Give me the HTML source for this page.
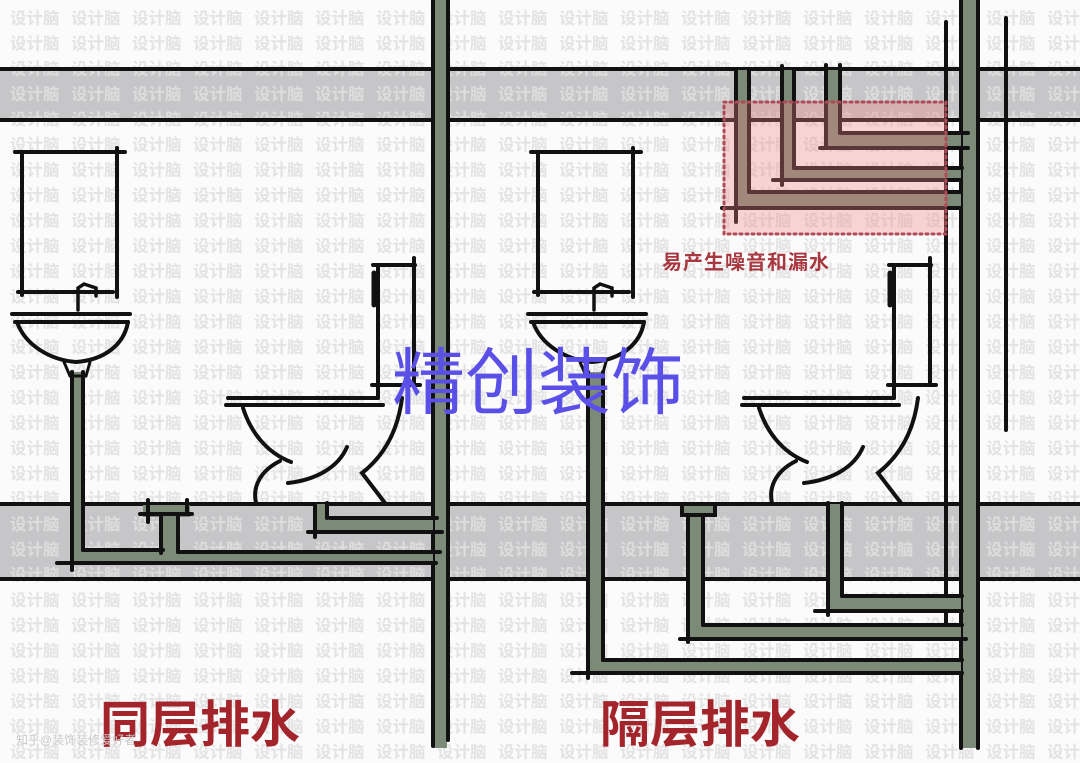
<!DOCTYPE html>
<html><head><meta charset="utf-8"><style>
html,body{margin:0;padding:0;background:#fff}
svg{display:block}
</style></head><body>
<svg width="1080" height="763" viewBox="0 0 1080 763" xmlns="http://www.w3.org/2000/svg">
<defs>
<pattern id="wm" x="10" y="6" width="61" height="25.3" patternUnits="userSpaceOnUse">
<text x="0" y="18" font-family="Liberation Sans, Noto Sans CJK SC, sans-serif" font-size="16.5" font-weight="bold" fill="#e0e0e0">设计脑</text>
</pattern>
</defs>
<rect width="1080" height="763" fill="#fbfbfb"/>
<rect x="0" y="68" width="1080" height="52" fill="#c6c6c8"/>
<rect x="0" y="503" width="1080" height="76" fill="#c6c6c8"/>
<rect width="1080" height="763" fill="url(#wm)" opacity="0.9"/>
<g stroke="#111" stroke-width="4">
<line x1="0" y1="69" x2="1080" y2="69"/>
<line x1="0" y1="120" x2="1080" y2="120"/>
<line x1="0" y1="504" x2="1080" y2="504"/>
<line x1="0" y1="579" x2="1080" y2="579"/>
</g>
<rect x="433" y="0" width="14" height="748" fill="#7c8a78"/>
<g stroke="#111" stroke-width="4" stroke-linecap="round">
<line x1="433" y1="0" x2="433" y2="746"/>
<line x1="448" y1="0" x2="448" y2="740"/>
</g>
<rect x="961" y="0" width="16" height="748" fill="#7c8a78"/>
<g stroke="#111" stroke-width="4" stroke-linecap="round">
<line x1="961" y1="0" x2="961" y2="748"/>
<line x1="978" y1="0" x2="978" y2="748"/>
<line x1="946" y1="22" x2="946" y2="630"/>
<line x1="1006" y1="18" x2="1006" y2="430"/>
</g>

<g fill="#7c8a78">
<rect x="73" y="372" width="10" height="191"/>
<rect x="73" y="550" width="360" height="13"/>
<rect x="161" y="515" width="17" height="37"/>
<rect x="143" y="505" width="47" height="12"/>
<rect x="316" y="504" width="12" height="28"/>
<rect x="316" y="518" width="117" height="14"/>
</g>
<g stroke="#111" stroke-width="4" stroke-linecap="round" fill="none">
<line x1="72" y1="372" x2="72" y2="570"/>
<line x1="83" y1="372" x2="83" y2="550"/>
<line x1="57" y1="563" x2="436" y2="563"/>
<line x1="83" y1="550" x2="163" y2="550"/>
<line x1="178" y1="552" x2="440" y2="552"/>
<line x1="161" y1="517" x2="161" y2="553"/>
<line x1="178" y1="517" x2="178" y2="552"/>
<line x1="140" y1="514" x2="192" y2="514"/>
<line x1="148" y1="500" x2="148" y2="522"/>
<line x1="187" y1="500" x2="187" y2="513"/>
<line x1="315" y1="505" x2="315" y2="537"/>
<line x1="327" y1="503" x2="327" y2="518"/>
<line x1="330" y1="518" x2="437" y2="518"/>
<line x1="308" y1="532" x2="442" y2="532"/>
</g>

<g fill="#7c8a78">
<rect x="589" y="372" width="14" height="300"/>
<rect x="589" y="660" width="372" height="13"/>
<rect x="689" y="515" width="14" height="124"/>
<rect x="689" y="625" width="272" height="14"/>
<rect x="682" y="505" width="33" height="10"/>
<rect x="829" y="504" width="13" height="107"/>
<rect x="829" y="596" width="132" height="15"/>
</g>
<g stroke="#111" stroke-width="4" stroke-linecap="round" fill="none">
<line x1="588" y1="372" x2="588" y2="678"/>
<line x1="603" y1="372" x2="603" y2="660"/>
<line x1="603" y1="660" x2="962" y2="660"/>
<line x1="572" y1="673" x2="962" y2="673"/>
<line x1="688" y1="515" x2="688" y2="642"/>
<line x1="703" y1="515" x2="703" y2="625"/>
<line x1="703" y1="625" x2="962" y2="625"/>
<line x1="680" y1="639" x2="966" y2="639"/>
<rect x="682" y="504" width="33" height="11"/>
<line x1="828" y1="503" x2="828" y2="615"/>
<line x1="842" y1="503" x2="842" y2="596"/>
<line x1="842" y1="596" x2="962" y2="596"/>
<line x1="815" y1="611" x2="962" y2="611"/>
</g>

<g fill="#7c8a78">
<rect x="737" y="70" width="12" height="138"/>
<rect x="737" y="192" width="224" height="16"/>
<rect x="783" y="70" width="11" height="110"/>
<rect x="783" y="168" width="178" height="12"/>
<rect x="827" y="70" width="13" height="78"/>
<rect x="827" y="133" width="134" height="15"/>
</g>
<g stroke="#111" stroke-width="4" stroke-linecap="round" fill="none">
<line x1="736" y1="70" x2="736" y2="222"/>
<line x1="749" y1="70" x2="749" y2="192"/>
<line x1="749" y1="192" x2="960" y2="192"/>
<line x1="722" y1="208" x2="960" y2="208"/>
<line x1="782" y1="66" x2="782" y2="185"/>
<line x1="794" y1="70" x2="794" y2="168"/>
<line x1="794" y1="168" x2="962" y2="168"/>
<line x1="773" y1="180" x2="960" y2="180"/>
<line x1="826" y1="65" x2="826" y2="148"/>
<line x1="840" y1="65" x2="840" y2="133"/>
<line x1="840" y1="133" x2="968" y2="133"/>
<line x1="820" y1="148" x2="968" y2="148"/>
</g>
<rect x="724" y="102" width="222" height="132" fill="rgba(240,130,130,0.33)" stroke="#b04a55" stroke-width="3" stroke-dasharray="2 4" stroke-linecap="round"/>

<g id="fx" stroke="#111" stroke-width="4" stroke-linecap="round" fill="none">
<line x1="15" y1="152" x2="125" y2="152"/>
<line x1="22" y1="152" x2="22" y2="295"/>
<line x1="117" y1="148" x2="117" y2="297"/>
<line x1="18" y1="292" x2="113" y2="292"/>
<path d="M78,310 L78,288 L84,284 L96,288 L96,296" stroke-width="3.5"/>
<line x1="12" y1="314" x2="130" y2="314"/>
<line x1="15" y1="322" x2="128" y2="322"/>
<path d="M17,322 C25,345 50,360 76,362 C104,360 124,345 128,322"/>
<path d="M64,362 L70,376 L86,376 L90,362" stroke-width="3"/>
<line x1="373" y1="265" x2="415" y2="265"/>
<line x1="414" y1="258" x2="414" y2="385"/>
<line x1="378" y1="265" x2="378" y2="387"/>
<path d="M374,273 L374,305" stroke-width="5"/>
<line x1="372" y1="385" x2="420" y2="385"/>
<line x1="228" y1="398" x2="378" y2="398"/>
<line x1="378" y1="385" x2="378" y2="398"/>
<line x1="226" y1="405" x2="383" y2="405"/>
<path d="M243,408 C250,430 265,452 291,462"/>
<path d="M280,461 C262,470 252,485 256,503"/>
<path d="M288,483 C315,480 338,468 347,447"/>
<path d="M402,398 C398,430 385,455 362,473 L385,503"/>
</g>
<use href="#fx" transform="translate(516,0)"/>

<text x="662" y="269" font-family="Liberation Sans, Noto Sans CJK SC, sans-serif" font-size="20" font-weight="bold" fill="#a83840" letter-spacing="1">易产生噪音和漏水</text>
<text x="392" y="408" font-family="Liberation Sans, Noto Sans CJK SC, sans-serif" font-size="73" fill="#5a50e8">精创装饰</text>
<text x="100" y="742" font-family="Liberation Sans, Noto Sans CJK SC, sans-serif" font-size="50" font-weight="bold" fill="#a3252b">同层排水</text>
<text x="600" y="742" font-family="Liberation Sans, Noto Sans CJK SC, sans-serif" font-size="50" font-weight="bold" fill="#a3252b">隔层排水</text>
<text x="16" y="744" font-family="Liberation Sans, Noto Sans CJK SC, sans-serif" font-size="12" fill="#c8c8c8">知乎@装饰装修爱好者</text>
</svg>
</body></html>
